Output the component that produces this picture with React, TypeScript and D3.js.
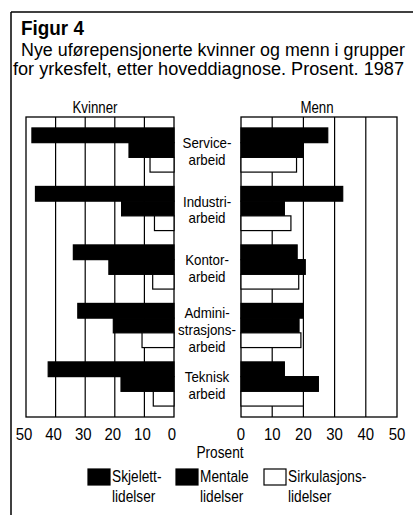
import React from "react";
import * as d3 from "d3";

const categories = ["Service", "Industri", "Kontor", "Admin", "Teknisk"];
const categoryLabels = [
  ["Service-", "arbeid"],
  ["Industri-", "arbeid"],
  ["Kontor-", "arbeid"],
  ["Admini-", "strasjons-", "arbeid"],
  ["Teknisk", "arbeid"],
];
const seriesNames = ["Skjelett", "Mentale", "Sirkulasjon"];
const seriesFill = ["#000", "#000", "#fff"];
const legendLabels = [
  ["Skjelett-", "lidelser"],
  ["Mentale", "lidelser"],
  ["Sirkulasjons-", "lidelser"],
];
// Kvinner (women)
const kvinnerSkjelett = [48, 46.8, 34, 32.5, 42.5];
const kvinnerMentale = [15.2, 17.7, 22, 20.5, 17.9];
const kvinnerSirkulasjon = [8.1, 6.6, 7.2, 10.8, 7];
// Menn (men)
const mennSkjelett = [27.8, 32.6, 18, 20, 13.9];
const mennMentale = [20, 13.9, 20.6, 18.6, 24.8];
const mennSirkulasjon = [17.8, 16, 18.5, 19.2, 20];

const ticksLeft = [50, 40, 30, 20, 10, 0];
const ticksRight = [0, 10, 20, 30, 40, 50];

const FONT = "'Liberation Sans', Arial, sans-serif";
const SX = 0.83;

type TP = {
  x: number; y: number; size: number; anchor?: string; sx?: number; weight?: string;
  len?: number; children: React.ReactNode;
};
function T({ x, y, size, anchor = "start", sx = SX, weight = "normal", len, children }: TP) {
  return (
    <text
      transform={`translate(${x},${y}) scale(${sx},1)`}
      fontSize={size}
      textAnchor={anchor}
      fontWeight={weight}
      textLength={len}
      lengthAdjust={len ? "spacingAndGlyphs" : undefined}
    >
      {children}
    </text>
  );
}

export default function App() {
  const W = 413, H = 515;
  const top = 117, bottom = 417;
  const xL = d3.scaleLinear().domain([0, 50]).range([174, 26]);
  const xR = d3.scaleLinear().domain([0, 50]).range([241, 397]);
  const y = d3.scaleBand<string>().domain(categories).range([top, bottom]).paddingInner(0.245).paddingOuter(0.187);
  const ys = d3.scaleBand<string>().domain(seriesNames).range([0, y.bandwidth()]);

  const kv = [kvinnerSkjelett, kvinnerMentale, kvinnerSirkulasjon];
  const mn = [mennSkjelett, mennMentale, mennSirkulasjon];

  const grid = (x: d3.ScaleLinear<number, number>, key: string) => (
    <g key={key}>
      {[10, 20, 30, 40].map((t) => (
        <line key={t} x1={x(t)} x2={x(t)} y1={top} y2={bottom} stroke="#000" strokeWidth={1.2} />
      ))}
      <rect x={Math.min(x(0), x(50))} y={top} width={Math.abs(x(50) - x(0))} height={bottom - top} fill="none" stroke="#000" strokeWidth={1.3} />
    </g>
  );

  const bars = (x: d3.ScaleLinear<number, number>, data: number[][], key: string) => (
    <g key={key}>
      {categories.map((c, ci) =>
        seriesNames.map((s, si) => {
          const v = data[si][ci];
          const x0 = Math.min(x(0), x(v));
          return (
            <rect key={c + s} x={x0} y={(y(c) as number) + (ys(s) as number)} width={Math.abs(x(v) - x(0))} height={ys.bandwidth()} fill={seriesFill[si]} stroke="#000" strokeWidth={1.2} />
          );
        })
      )}
    </g>
  );

  return (
    <svg width={W} height={H} style={{ position: "absolute", left: 0, top: 0 }} fontFamily={FONT}>
      <rect x={0} y={0} width={W} height={H} fill="#fff" />
      {/* frame */}
      <line x1={11} x2={W} y1={12} y2={12} stroke="#000" strokeWidth={1.5} />
      <line x1={11} x2={11} y1={12} y2={H} stroke="#000" strokeWidth={1.5} />
      <T x={21} y={35} size={19.5} weight="bold" sx={0.97}>Figur 4</T>
      <T x={21} y={56} size={18.5} len={384 / SX}>Nye uførepensjonerte kvinner og menn i grupper</T>
      <T x={13} y={75} size={18.5} len={391 / SX}>for yrkesfelt, etter hoveddiagnose. Prosent. 1987</T>

      <T x={95} y={113} size={16} anchor="middle">Kvinner</T>
      <T x={317} y={113} size={16} anchor="middle">Menn</T>

      {grid(xL, "gl")}
      {grid(xR, "gr")}
      {bars(xL, kv, "bl")}
      {bars(xR, mn, "br")}

      {categories.map((c, ci) => {
        const lines = categoryLabels[ci];
        const cy = (y(c) as number) + y.bandwidth() / 2;
        const lh = 16.8;
        const off = lines.length === 3 ? 9.5 : 6.5;
        const y0 = cy - ((lines.length - 1) * lh) / 2 + off;
        return (
          <g key={c}>
            {lines.map((l, li) => (
              <T key={li} x={207} y={y0 + li * lh} size={14.5} sx={0.92} anchor="middle">{l}</T>
            ))}
          </g>
        );
      })}

      {ticksLeft.map((t) => (
        <T key={"tl" + t} x={xL(t) - 2} y={440} size={17} sx={0.88} anchor="middle">{t}</T>
      ))}
      {ticksRight.map((t) => (
        <T key={"tr" + t} x={xR(t)} y={440} size={17} sx={0.88} anchor="middle">{t}</T>
      ))}
      <T x={220} y={458} size={16.5} anchor="middle">Prosent</T>

      {legendLabels.map((lab, i) => {
        const sx = [88, 176, 264][i];
        return (
          <g key={i}>
            <rect x={sx} y={469} width={22} height={16} fill={seriesFill[i]} stroke="#000" strokeWidth={1.2} />
            <T x={sx + 24} y={482} size={16.5}>{lab[0]}</T>
            <T x={sx + 24} y={502} size={16.5}>{lab[1]}</T>
          </g>
        );
      })}
    </svg>
  );
}
